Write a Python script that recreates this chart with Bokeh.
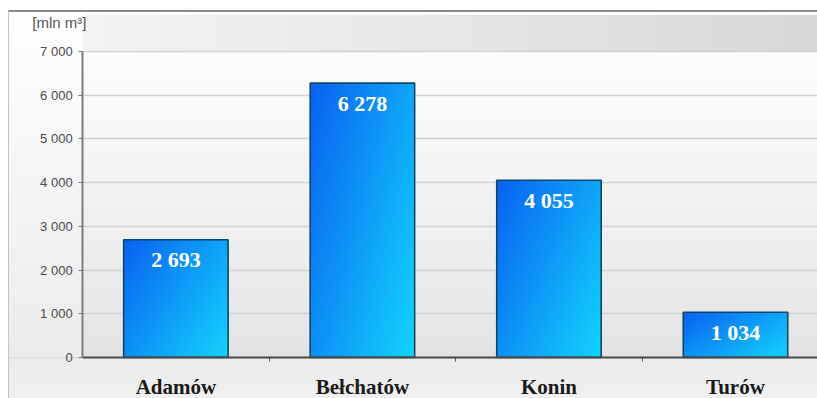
import numpy as np
from bokeh.plotting import figure
from bokeh.models import Range1d, FixedTicker, InlineStyleSheet
from bokeh.embed import file_html
from bokeh.resources import INLINE
from bokeh.core.properties import value

# Gas resources by deposit [mln m³]
categories = ["Adamów", "Bełchatów", "Konin", "Turów"]
values = [2693, 6278, 4055, 1034]
y_ticks = [0, 1000, 2000, 3000, 4000, 5000, 6000, 7000]
y_tick_labels = ["0", "1 000", "2 000", "3 000", "4 000", "5 000", "6 000", "7 000"]
unit_label = "[mln m³]"

X_START, X_END = -0.392, 3.945
Y_START, Y_END = -987, 7850
BAR_W = 0.56

p = figure(
    width=809, height=388,
    x_range=Range1d(X_START, X_END), y_range=Range1d(Y_START, Y_END),
    output_backend="svg", toolbar_location=None,
    min_border_left=0, min_border_right=0, min_border_top=2, min_border_bottom=0,
    background_fill_alpha=0, border_fill_alpha=0, outline_line_color=None,
)
p.margin = (10, 0, 0, 8)
p.stylesheets = [InlineStyleSheet(css=""":host {
    background: linear-gradient(180deg, #ffffff 0%, #e9e9e9 100%);
    border-top: 2px solid #8a8a8a;
    border-left: 1px solid #c4c4c4;
}""")]


def lerp_rgba(c0, c1, t):
    t = np.clip(t, 0, 1)[..., None]
    c = np.array(c0, float) * (1 - t) + np.array(c1, float) * t
    c = c.astype(np.uint8)
    rgba = np.empty(c.shape[:2], dtype=np.uint32)
    view = rgba.view(dtype=np.uint8).reshape(c.shape[0], c.shape[1], 4)
    view[..., :3] = c
    view[..., 3] = 255
    return rgba


# plot-area backdrop: soft vertical fade below the top gridline
vv = np.linspace(0, 1, 200)[:, None] * np.ones((1, 4))  # 0 at bottom row
p.image_rgba(image=[lerp_rgba((226, 226, 226), (253, 253, 253), vv ** 0.8)],
             x=0, y=0, dw=X_END, dh=7000, level="image")

# band above the top gridline, darker towards the right
uu = np.ones((4, 200)) * np.linspace(0, 1, 200)[None, :]
p.image_rgba(image=[lerp_rgba((244, 244, 244), (216, 216, 216), uu)],
             x=0, y=7000, dw=X_END, dh=Y_END - 7000, level="image")

# strip under the category axis, full width
vb = np.linspace(0, 1, 20)[:, None] * np.ones((1, 4))
p.image_rgba(image=[lerp_rgba((240, 240, 240), (236, 236, 236), vb)],
             x=X_START, y=Y_START, dw=X_END - X_START, dh=-Y_START, level="image")

# grid
p.xgrid.visible = False
p.ygrid.ticker = FixedTicker(ticks=y_ticks)
p.ygrid.grid_line_color = "#d2d2d2"
p.ygrid.grid_line_width = 1.5

# margin strip left of the value axis, same fade as the page
vl = np.linspace(0, 1, 200)[:, None] * np.ones((1, 4))
p.image_rgba(image=[lerp_rgba((236, 236, 236), (255, 255, 255), vl)],
             x=X_START, y=0, dw=-X_START, dh=Y_END)

# bars with a diagonal blue-to-cyan gradient
gh, gw = 160, 80
u = np.linspace(0, 1, gw)[None, :] * np.ones((gh, 1))
v = np.linspace(1, 0, gh)[:, None] * np.ones((1, gw))  # 1 at bottom row (image row 0 is bottom)
grad = lerp_rgba((10, 98, 242), (18, 208, 252), 0.62 * u + 0.42 * v)
xs = [i + 0.5 for i in range(len(categories))]
p.image_rgba(image=[grad] * len(values),
             x=[x - BAR_W / 2 for x in xs], y=[0] * len(values),
             dw=[BAR_W] * len(values), dh=values)
p.vbar(x=xs, top=values, width=BAR_W, fill_alpha=0,
       line_color="#0b4868", line_width=1.6)

# value labels inside the bars
p.text(x=xs, y=values, text=[f"{val:,}".replace(",", " ") for val in values],
       text_font=value("Liberation Serif"), text_font_style="bold",
       text_font_size="22px", text_color="white",
       text_align="center", text_baseline="middle", y_offset=20)

# unit caption above the value axis
p.text(x=[X_START + 0.122], y=[Y_END - 180], text=[unit_label],
       text_font=value("Liberation Sans"), text_font_size="15px",
       text_color="#555555", text_align="left", text_baseline="middle")

# x axis pinned at y = 0: labels at category centres, ticks between categories
xa = p.xaxis[0]
xa.fixed_location = 0
xa.bounds = (0, X_END)
xa.ticker = FixedTicker(ticks=xs, minor_ticks=[1, 2, 3])
xa.major_label_overrides = {x: c for x, c in zip(xs, categories)}
xa.major_tick_in = 0
xa.major_tick_out = 0
xa.minor_tick_in = 0
xa.minor_tick_out = 4
xa.minor_tick_line_color = "#555555"
xa.axis_line_color = "#4a4a4a"
xa.axis_line_width = 2
xa.major_label_text_font = "Liberation Serif"
xa.major_label_text_font_style = "bold"
xa.major_label_text_font_size = "21px"
xa.major_label_text_color = "#1a1a1a"
xa.major_label_standoff = 14

# y axis pinned at x = 0
ya = p.yaxis[0]
ya.fixed_location = 0
ya.ticker = FixedTicker(ticks=y_ticks)
ya.bounds = (0, 7000)
ya.major_label_overrides = {t: s for t, s in zip(y_ticks, y_tick_labels)}
ya.major_tick_in = 0
ya.major_tick_out = 4
ya.major_tick_line_color = "#777777"
ya.minor_tick_line_color = None
ya.axis_line_color = "#7c7c7c"
ya.axis_line_width = 2
ya.major_label_text_font = "Liberation Sans"
ya.major_label_text_font_size = "13px"
ya.major_label_text_color = "#4a4a4a"
ya.major_label_standoff = 6

open("out.html", "w").write(file_html(p, INLINE))
